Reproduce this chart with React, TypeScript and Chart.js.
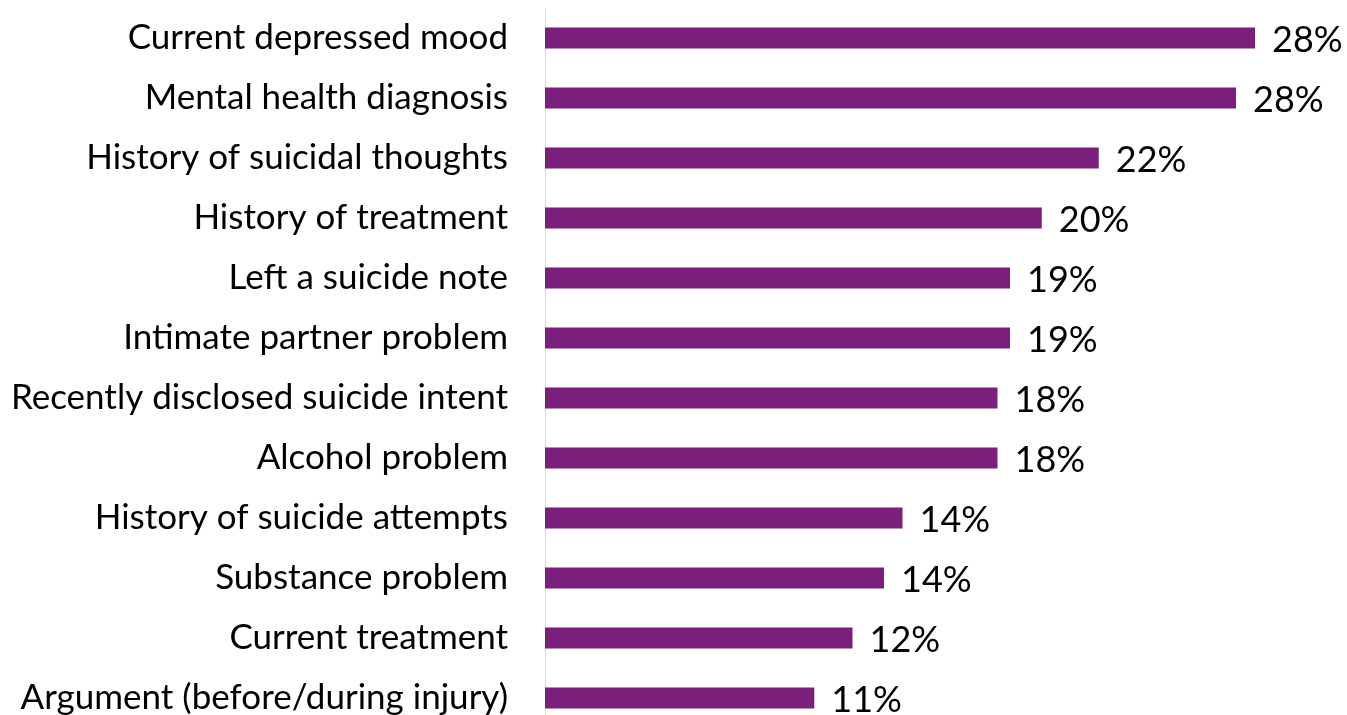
import React, { useEffect, useRef } from "react";
import { Chart, registerables } from "chart.js";

Chart.register(...registerables);

const categories = [
  "Current depressed mood",
  "Mental health diagnosis",
  "History of suicidal thoughts",
  "History of treatment",
  "Left a suicide note",
  "Intimate partner problem",
  "Recently disclosed suicide intent",
  "Alcohol problem",
  "History of suicide attempts",
  "Substance problem",
  "Current treatment",
  "Argument (before/during injury)",
];

const values = [28.4, 27.64, 22.15, 19.87, 18.6, 18.6, 18.1, 18.1, 14.3, 13.56, 12.3, 10.77];

const valueLabels = ["28%", "28%", "22%", "20%", "19%", "19%", "18%", "18%", "14%", "14%", "12%", "11%"];

const BAR_COLOR = "#7A1F7B";
const FONT = "Lato, 'Open Sans', sans-serif";

const valueLabelPlugin = {
  id: "valueLabels",
  afterDatasetsDraw(chart: any) {
    const { ctx } = chart;
    const meta = chart.getDatasetMeta(0);
    ctx.save();
    ctx.font = `36px ${FONT}`;
    ctx.fillStyle = "#000000";
    ctx.textAlign = "left";
    ctx.textBaseline = "middle";
    meta.data.forEach((bar: any, i: number) => {
      ctx.fillText(valueLabels[i], bar.x + 17, bar.y + 2);
    });
    ctx.restore();
  },
};

export default function App() {
  const canvasRef = useRef<HTMLCanvasElement | null>(null);

  useEffect(() => {
    if (!canvasRef.current) return;
    const chart = new Chart(canvasRef.current, {
      type: "bar",
      data: {
        labels: categories,
        datasets: [
          {
            data: values,
            backgroundColor: BAR_COLOR,
            borderWidth: 0,
            barPercentage: 0.35,
            categoryPercentage: 1,
          },
        ],
      },
      options: {
        indexAxis: "y",
        animation: false,
        responsive: true,
        maintainAspectRatio: false,
        layout: { padding: { top: 8, bottom: 7, left: 0, right: 2 } },
        plugins: {
          legend: { display: false },
          tooltip: { enabled: false },
        },
        scales: {
          x: {
            display: false,
            min: 0,
            max: 32,
          },
          y: {
            grid: { display: false, drawTicks: false },
            border: { display: true, color: "#D9D9D9", width: 1 },
            ticks: {
              color: "#000000",
              padding: 37,
              font: { family: FONT, size: 35 },
            },
            afterFit(scale: any) {
              scale.width = 545;
              scale.paddingTop = 0;
              scale.paddingBottom = 0;
            },
          },
        },
      },
      plugins: [valueLabelPlugin],
    });
    return () => chart.destroy();
  }, []);

  return (
    <div style={{ position: "fixed", left: 0, top: 0, right: 0, bottom: 0, overflow: "hidden", background: "#fff" }}>
      <div style={{ position: "relative", width: 1347, height: 735 }}>
        <canvas ref={canvasRef} />
      </div>
    </div>
  );
}
